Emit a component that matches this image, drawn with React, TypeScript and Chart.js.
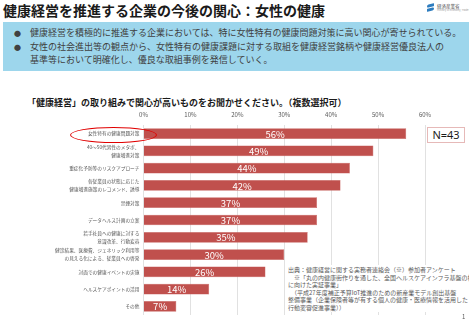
import React, { useEffect, useRef } from "react";
import { Chart, registerables } from "chart.js";

Chart.register(...registerables);

const categories: (string | string[])[] = [
  "女性特有の健康問題対策",
  ["40～50代男性のメタボ、", "健康増進対策"],
  "重症化予防等のリスクアプローチ",
  ["各従業員の状態に応じた", "健康増進施策のレコメンド、誘導"],
  "禁煙対策",
  "データヘルス計画の立案",
  ["若手社員への健康に対する", "意識改革、行動変容"],
  ["健診結果、医療費、ジェネリック利用等", "の見える化による、従業員への啓発"],
  "対面での健康イベントの実施",
  "ヘルスケアポイントの活用",
  "その他",
];
const values = [56, 49, 44, 42, 37, 37, 35, 30, 26, 14, 7];
const axisMax = 60;
const axisStep = 10;

const title = "健康経営を推進する企業の今後の関心：女性の健康";
const bullets = [
  "健康経営を積極的に推進する企業においては、特に女性特有の健康問題対策に高い関心が寄せられている。",
  "女性の社会進出等の観点から、女性特有の健康課題に対する取組を健康経営銘柄や健康経営優良法人の",
];
const bulletCont = "基準等において明確化し、優良な取組事例を発信していく。";
const question = "「健康経営」の取り組みで関心が高いものをお聞かせください。（複数選択可）";
const nLabel = "N=43";
const sourceLines = [
  "出典：健康経営に関する実務者連絡会（※）参加者アンケート",
  "　※「丸の内健康街作りを通した、全国ヘルスケアインフラ基盤の構築",
  "に向けた実証事業」",
  "　（平成27年度補正予算IoT推進のための新産業モデル創出基盤",
  "整備事業（企業保険者等が有する個人の健康・医療情報を活用した",
  "行動変容促進事業））",
];

const FONT = "'Noto Sans CJK JP', 'Noto Sans', sans-serif";

const labelPlugin = {
  id: "barLabels",
  afterDatasetsDraw(chart: any) {
    const ctx = chart.ctx;
    const meta = chart.getDatasetMeta(0);
    ctx.save();
    ctx.fillStyle = "#ffffff";
    ctx.font = `9.5px ${FONT}`;
    ctx.textAlign = "center";
    ctx.textBaseline = "middle";
    meta.data.forEach((el: any, i: number) => {
      const x = (el.x + el.base) / 2;
      ctx.fillText(values[i] + "%", x, el.y + 0.5);
    });
    ctx.restore();
  },
};

export default function App() {
  const ref = useRef<HTMLCanvasElement | null>(null);
  useEffect(() => {
    if (!ref.current) return;
    const chart = new Chart(ref.current, {
      type: "bar",
      data: {
        labels: categories,
        datasets: [
          {
            data: values,
            backgroundColor: "#C0504D",
            borderColor: "#C65E5B",
            borderWidth: 0.5,
            categoryPercentage: 1,
            barPercentage: 0.62,
          },
        ],
      },
      options: {
        indexAxis: "y",
        responsive: false,
        animation: false,
        layout: { padding: { left: 0, right: 44, top: 0, bottom: 0 } },
        plugins: { legend: { display: false }, tooltip: { enabled: false } },
        scales: {
          x: {
            position: "top",
            min: 0,
            max: axisMax,
            afterFit: (s: any) => {
              s.height = 25;
            },
            grid: { color: "#D9D9D9", drawTicks: false, lineWidth: 0.8 },
            border: { display: false },
            ticks: {
              stepSize: axisStep,
              padding: 7,
              color: "#595959",
              font: { size: 6, family: FONT },
              callback: (v: any) => v + "%",
            },
          },
          y: {
            afterFit: (s: any) => {
              s.width = 143.5;
            },
            grid: { display: false, drawTicks: false },
            border: { display: false },
            ticks: {
              padding: 4,
              color: "#595959",
              autoSkip: false,
              font: { size: 4.7, family: FONT, lineHeight: 1.7 },
            },
          },
        },
      } as any,
      plugins: [labelPlugin],
    });
    return () => chart.destroy();
  }, []);

  return (
    <div
      style={{
        position: "fixed",
        left: 0,
        top: 0,
        width: 469,
        height: 323,
        background: "#ffffff",
        overflow: "hidden",
        fontFamily: FONT,
      }}
    >
      <div
        style={{
          position: "absolute",
          left: 3,
          top: 2,
          fontSize: 14,
          fontWeight: 700,
          lineHeight: "16px",
          color: "#1a1a1a",
          whiteSpace: "nowrap",
        }}
      >
        {title}
      </div>
      {/* logo */}
      <div style={{ position: "absolute", left: 426, top: 4, width: 9, height: 9 }}>
        <div style={{ position: "absolute", left: 1, top: 0, width: 7, height: 3, background: "#2E7DBF", borderRadius: "3px 1px 1px 3px", transform: "skewY(-15deg)" }} />
        <div style={{ position: "absolute", left: 1, top: 4, width: 7, height: 3, background: "#2E7DBF", borderRadius: "1px 3px 3px 1px", transform: "skewY(-15deg)" }} />
      </div>
      <div style={{ position: "absolute", left: 437, top: 4, fontSize: 4.5, lineHeight: "5px", color: "#555", whiteSpace: "nowrap" }}>経済産業省</div>
      <div style={{ position: "absolute", left: 437, top: 9, fontSize: 2.5, lineHeight: "3px", color: "#999", whiteSpace: "nowrap" }}>Ministry of Economy, Trade and Industry</div>

      <div
        style={{
          position: "absolute",
          left: 3,
          top: 22,
          width: 466,
          height: 49,
          background: "#9DD6EC",
        }}
      />
      {bullets.map((b, i) => (
        <React.Fragment key={i}>
          <div style={{ position: "absolute", left: 14, top: 27 + i * 13.5, fontSize: 7, lineHeight: "12px", color: "#404040" }}>●</div>
          <div style={{ position: "absolute", left: 30, top: 27 + i * 13.5, fontSize: 9, lineHeight: "12px", color: "#404040", whiteSpace: "nowrap" }}>{b}</div>
        </React.Fragment>
      ))}
      <div style={{ position: "absolute", left: 30, top: 54, fontSize: 9, lineHeight: "12px", color: "#404040", whiteSpace: "nowrap" }}>{bulletCont}</div>

      <div
        style={{
          position: "absolute",
          left: 27,
          top: 96,
          fontSize: 9,
          fontWeight: 700,
          lineHeight: "14px",
          color: "#1a1a1a",
          whiteSpace: "nowrap",
        }}
      >
        {question}
      </div>

      <canvas
        ref={ref}
        width={469}
        height={223}
        style={{ position: "absolute", left: 0, top: 100, width: 469, height: 223 }}
      />

      <div
        style={{
          position: "absolute",
          left: 70,
          top: 127,
          width: 87,
          height: 16,
          boxSizing: "border-box",
          border: "1.5px solid #E00000",
          borderRadius: "50%",
        }}
      />

      <div
        style={{
          position: "absolute",
          left: 427,
          top: 127,
          width: 38,
          height: 16,
          boxSizing: "border-box",
          border: "1px solid #E6B9B8",
          background: "#fff",
          fontSize: 11,
          lineHeight: "14px",
          textAlign: "center",
          color: "#1a1a1a",
          fontFamily: "'Noto Sans', sans-serif",
        }}
      >
        {nLabel}
      </div>

      <div
        style={{
          position: "absolute",
          left: 285,
          top: 265,
          width: 184,
          height: 47,
          background: "#fff",
          paddingLeft: 3,
          paddingTop: 1,
          boxSizing: "border-box",
          overflow: "hidden",
        }}
      >
        {sourceLines.map((l, i) => (
          <div key={i} style={{ fontSize: 6, lineHeight: "7.5px", color: "#595959", whiteSpace: "nowrap" }}>{l}</div>
        ))}
      </div>
      <div style={{ position: "absolute", left: 462, top: 313, fontSize: 6, lineHeight: "8px", color: "#595959" }}>1</div>
    </div>
  );
}
